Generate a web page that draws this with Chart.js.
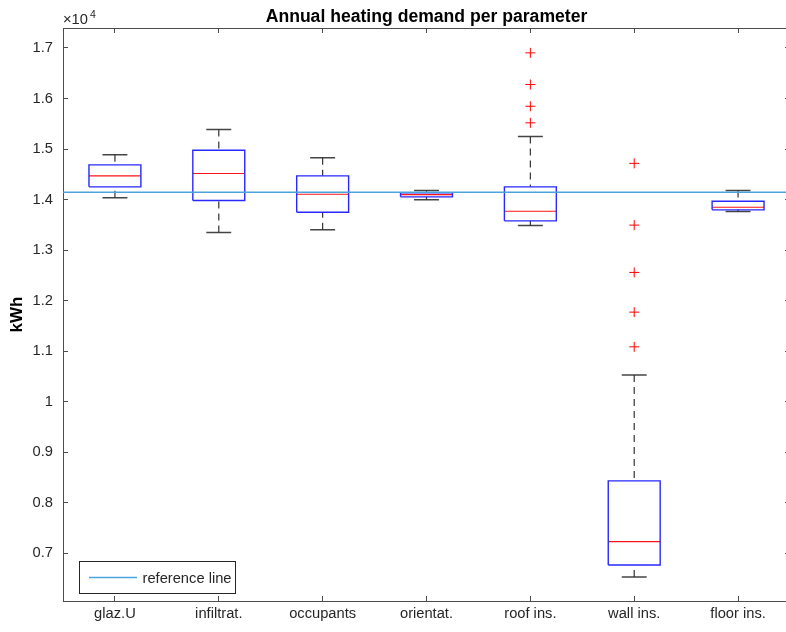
<!DOCTYPE html>
<html>
<head>
<meta charset="utf-8">
<script src="https://cdn.jsdelivr.net/npm/chart.js@4.4.1/dist/chart.umd.min.js"></script>
<style>
  html, body { margin: 0; padding: 0; background: #fff; overflow: hidden; }
  #wrap { width: 786px; height: 632px; overflow: hidden; }
  canvas { display: block; }
</style>
</head>
<body>
<div id="wrap"><canvas id="boxChart" width="800" height="632"></canvas></div>
<script>
// Annual heating demand per parameter (kWh), one box per parameter
const categories = ["glaz.U", "infiltrat.", "occupants", "orientat.", "roof ins.", "wall ins.", "floor ins."];
const whiskerLow = [14034, 13347, 13400, 13994, 13485, 6531, 13763];
const q1 = [14251, 13980, 13749, 14053, 13578, 6768, 13796];
const median = [14469, 14515, 14105, 14099, 13768, 7232, 13848];
const q3 = [14687, 14976, 14469, 14133, 14251, 8432, 13966];
const whiskerHigh = [14885, 15385, 14825, 14178, 15247, 10530, 14178];
const outliers = [[], [], [], [], [16903, 16276, 15846, 15518], [14716, 13494, 12558, 11772, 11085], []];
const referenceValue = 14144;
const yTickValues = [7000, 8000, 9000, 10000, 11000, 12000, 13000, 14000, 15000, 16000, 17000];
const yMin = 6055, yMax = 17395;

const fontFamily = "'Liberation Sans', Arial, Helvetica, sans-serif";
const axisColor = "#4d4d4d";
const textColor = "#262626";
const refColor = "#4aa3df";
const boxHalf = 0.25;
const capHalf = 0.12;

// build line segments (null separates them)
const boxPts = [], medPts = [], whiskPts = [], capPts = [], outPts = [];
categories.forEach((c, i) => {
  const x = i + 1;
  boxPts.push({ x: x - boxHalf, y: q1[i] }, { x: x + boxHalf, y: q1[i] }, { x: x + boxHalf, y: q3[i] },
    { x: x - boxHalf, y: q3[i] }, { x: x - boxHalf, y: q1[i] }, { x: x, y: null });
  medPts.push({ x: x - boxHalf, y: median[i] }, { x: x + boxHalf, y: median[i] }, { x: x, y: null });
  whiskPts.push({ x: x, y: whiskerHigh[i] }, { x: x, y: q3[i] }, { x: x, y: null });
  whiskPts.push({ x: x, y: whiskerLow[i] }, { x: x, y: q1[i] }, { x: x, y: null });
  capPts.push({ x: x - capHalf, y: whiskerHigh[i] }, { x: x + capHalf, y: whiskerHigh[i] }, { x: x, y: null });
  capPts.push({ x: x - capHalf, y: whiskerLow[i] }, { x: x + capHalf, y: whiskerLow[i] }, { x: x, y: null });
  outliers[i].forEach(v => outPts.push({ x: x, y: v }));
});

const segLine = (label, data, color, extra) => Object.assign({
  label: label, data: data, borderColor: color, borderWidth: 1,
  pointRadius: 0, fill: false, spanGaps: false, tension: 0, order: 2,
}, extra);

// legend in lower left corner of plot, plus the x10^4 exponent
const extras = {
  id: "extras",
  afterDraw(chart) {
    const ctx = chart.ctx;
    const a = chart.chartArea;
    ctx.save();
    // exponent
    ctx.fillStyle = textColor;
    ctx.textBaseline = "alphabetic";
    ctx.font = "14.7px " + fontFamily;
    ctx.fillText("\u00d710", a.left, 24);
    const w = ctx.measureText("\u00d710").width;
    ctx.font = "10.5px " + fontFamily;
    ctx.fillText("4", a.left + w + 2, 17.5);
    // legend
    const lx = a.left + 16.5, ly = a.bottom - 39.5, lw = 156, lh = 32;
    ctx.fillStyle = "#fff";
    ctx.fillRect(lx, ly, lw, lh);
    ctx.strokeStyle = "#262626";
    ctx.lineWidth = 1;
    ctx.strokeRect(lx, ly, lw, lh);
    ctx.strokeStyle = refColor;
    ctx.lineWidth = 1.5;
    ctx.beginPath();
    ctx.moveTo(lx + 9.5, ly + lh / 2);
    ctx.lineTo(lx + 57.5, ly + lh / 2);
    ctx.stroke();
    ctx.fillStyle = textColor;
    ctx.font = "14.7px " + fontFamily;
    ctx.textBaseline = "middle";
    ctx.fillText(chart.data.datasets[0].label, lx + 63, ly + lh / 2 + 1);
    ctx.restore();
  },
};

const gridOpts = { drawOnChartArea: false, tickLength: -5, color: axisColor };
const borderOpts = { color: axisColor };
const catTicks = s => { s.ticks = categories.map((c, i) => ({ value: i + 1 })); };
const valTicks = s => { s.ticks = yTickValues.map(v => ({ value: v })); };

new Chart(document.getElementById("boxChart").getContext("2d"), {
  type: "line",
  data: {
    datasets: [
      segLine("reference line", [{ x: 0.5, y: referenceValue }, { x: 7.5, y: referenceValue }], refColor, { borderWidth: 1.5, order: 0 }),
      segLine("boxes", boxPts, "rgb(40,40,255)", { borderWidth: 1.4 }),
      segLine("medians", medPts, "rgb(255,20,20)", { borderWidth: 1.2 }),
      segLine("whiskers", whiskPts, "#333", { borderDash: [7, 5], borderWidth: 1.2 }),
      segLine("caps", capPts, "#444", { borderWidth: 1.5 }),
      {
        label: "outliers", data: outPts, showLine: false, pointStyle: "cross",
        pointRadius: 5, pointBorderColor: "rgb(255,0,0)", pointBorderWidth: 1, order: 1,
      },
    ],
  },
  options: {
    responsive: false,
    animation: false,
    plugins: { legend: { display: false }, tooltip: { enabled: false }, title: { display: false } },
    scales: {
      x: {
        type: "linear", position: "bottom", min: 0.5, max: 7.5,
        afterBuildTicks: catTicks,
        afterFit: s => { s.height = 31; },
        grid: gridOpts, border: borderOpts,
        ticks: {
          autoSkip: false, maxRotation: 0, padding: 9,
          color: textColor, font: { family: fontFamily, size: 14.7 },
          callback: v => categories[Math.round(v) - 1] || "",
        },
      },
      x2: {
        type: "linear", position: "top", min: 0.5, max: 7.5,
        afterBuildTicks: catTicks,
        afterFit: s => { s.height = 28; },
        grid: gridOpts, border: borderOpts,
        ticks: { display: false },
        title: {
          display: true, text: "Annual heating demand per parameter", color: "#000",
          font: { family: fontFamily, size: 17.6, weight: "bold" }, padding: { top: 6.5, bottom: 0 },
        },
      },
      y: {
        type: "linear", position: "left", min: yMin, max: yMax,
        afterBuildTicks: valTicks,
        afterFit: s => { s.width = 63; },
        grid: gridOpts, border: borderOpts,
        ticks: {
          autoSkip: false, padding: 15,
          color: textColor, font: { family: fontFamily, size: 14.7 },
          callback: v => String(parseFloat((v / 10000).toFixed(2))),
        },
        title: {
          display: true, text: "kWh", color: "#000",
          font: { family: fontFamily, size: 17, weight: "bold" }, padding: { top: 7, bottom: 0 },
        },
      },
      y2: {
        type: "linear", position: "right", min: yMin, max: yMax,
        afterBuildTicks: valTicks,
        afterFit: s => { s.width = 10; },
        grid: gridOpts, border: borderOpts,
        ticks: { display: false },
      },
    },
  },
  plugins: [extras],
});
</script>
</body>
</html>
